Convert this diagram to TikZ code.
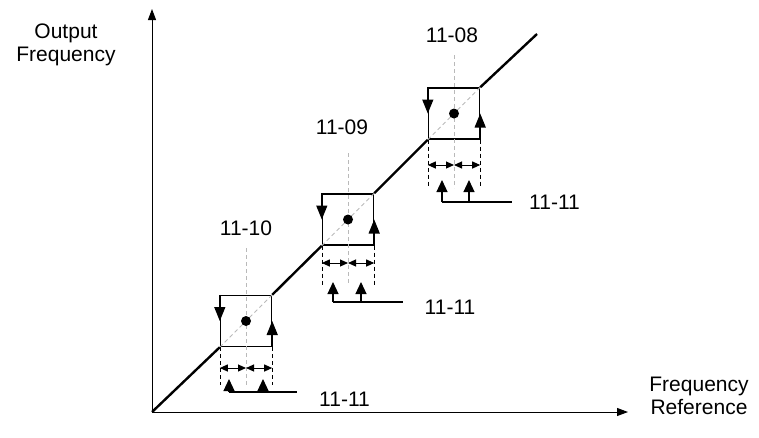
\documentclass[tikz,border=0pt]{standalone}
\usepackage{fontspec}
\setmainfont{Liberation Sans}
\usetikzlibrary{arrows.meta}
\tikzset{
  axisline/.style={-{Triangle[length=11pt,width=8pt]}, line width=1pt},
  refline/.style={line width=2.4pt},
  hystbox/.style={draw, line width=1.4pt, minimum size=51pt, inner sep=0pt},
  edgearrow/.style={-{Triangle[length=14pt,width=11pt]}, line width=1.4pt},
  bigdot/.style={circle, fill=black, draw=none, minimum size=10pt, inner sep=0pt},
  centerline/.style={gray!55, dash pattern=on 4pt off 3pt, line width=0.8pt},
  edgeline/.style={dash pattern=on 4pt off 3pt, line width=0.6pt},
  bandarrow/.style={{Triangle[length=8pt,width=7pt]}-{Triangle[length=8pt,width=7pt]}, line width=1pt},
  steparrow/.style={-{Triangle[length=12pt,width=11pt]}, line width=1.2pt},
  stepline/.style={line width=1.2pt},
  parlabel/.style={font=\fontsize{21}{23}\selectfont, inner sep=0pt}
}

\begin{document}
\begin{tikzpicture}[x=1pt, y=1pt]
  \useasboundingbox (0,0) rectangle (759,-437);

  % axes
  \coordinate (o) at (152,-412);
  \coordinate (ytip) at (152,-9);
  \coordinate (xtip) at (628,-412);
  \draw[axisline] (o) -- (ytip);
  \draw[axisline] (o) -- (xtip);
  \node[parlabel, align=center] (ylab) at (66,-45) {Output\\Frequency};
  \node[parlabel, align=center] (xlab) at (699,-396) {Frequency\\Reference};

  % hysteresis boxes on the reference line
  \node[hystbox] (b1) at (246,-321) {};
  \node[hystbox] (b2) at (348,-219.5) {};
  \node[hystbox] (b3) at (454,-113.5) {};
  \coordinate (rend) at (537,-34);
  \draw[refline] (o) -- (b1.south west);
  \draw[refline] (b1.north east) -- (b2.south west);
  \draw[refline] (b2.north east) -- (b3.south west);
  \draw[refline] (b3.north east) -- (rend);

  % box 1
  \draw[centerline] (b1.south west) -- (b1.north east);
  \node[parlabel] (l1) at (246,-228) {11-10};
  \coordinate (c1t) at (246,-248);
  \coordinate (c1b) at (246,-385);
  \draw[centerline] (c1t) -- (c1b);
  \draw[edgearrow] (b1.north west) -- (b1.west);
  \draw[edgearrow] (b1.south east) -- (b1.east);
  \node[bigdot] (d1) at (b1.center) {};
  \draw[edgeline] (b1.south west) -- (b1.south west |- c1b);
  \draw[edgeline] (b1.south east) -- (b1.south east |- c1b);
  \coordinate (m1) at (246,-368);
  \draw[bandarrow] (b1.west |- m1) -- (m1);
  \draw[bandarrow] (m1) -- (b1.east |- m1);
  \coordinate (s1a) at (229,-392);
  \coordinate (s1b) at (263,-392);
  \coordinate (s1e) at (297,-392);
  \draw[stepline] (s1a) -- (s1e);
  \draw[steparrow] (s1a) -- (229,-379);
  \draw[steparrow] (s1b) -- (263,-379);
  \node[parlabel] (w1) at (344.5,-399.5) {11-11};

  % box 2
  \draw[centerline] (b2.south west) -- (b2.north east);
  \node[parlabel] (l2) at (342,-127) {11-09};
  \coordinate (c2t) at (348,-153);
  \coordinate (c2b) at (348,-285);
  \draw[centerline] (c2t) -- (c2b);
  \draw[edgearrow] (b2.north west) -- (b2.west);
  \draw[edgearrow] (b2.south east) -- (b2.east);
  \node[bigdot] (d2) at (b2.center) {};
  \draw[edgeline] (b2.south west) -- (b2.south west |- c2b);
  \draw[edgeline] (b2.south east) -- (b2.south east |- c2b);
  \coordinate (m2) at (348,-263);
  \draw[bandarrow] (b2.west |- m2) -- (m2);
  \draw[bandarrow] (m2) -- (b2.east |- m2);
  \coordinate (s2a) at (333,-302);
  \coordinate (s2b) at (361,-302);
  \coordinate (s2e) at (403,-302);
  \draw[stepline] (s2a) -- (s2e);
  \draw[steparrow] (s2a) -- (333,-282);
  \draw[steparrow] (s2b) -- (361,-282);
  \node[parlabel] (w2) at (450,-307) {11-11};

  % box 3
  \draw[centerline] (b3.south west) -- (b3.north east);
  \node[parlabel] (l3) at (452,-35) {11-08};
  \coordinate (c3t) at (454,-55);
  \coordinate (c3b) at (454,-188);
  \draw[centerline] (c3t) -- (c3b);
  \draw[edgearrow] (b3.north west) -- (b3.west);
  \draw[edgearrow] (b3.south east) -- (b3.east);
  \node[bigdot] (d3) at (b3.center) {};
  \draw[edgeline] (b3.south west) -- (b3.south west |- c3b);
  \draw[edgeline] (b3.south east) -- (b3.south east |- c3b);
  \coordinate (m3) at (454,-165);
  \draw[bandarrow] (b3.west |- m3) -- (m3);
  \draw[bandarrow] (m3) -- (b3.east |- m3);
  \coordinate (s3a) at (442,-202);
  \coordinate (s3b) at (469,-202);
  \coordinate (s3e) at (512,-202);
  \draw[stepline] (s3a) -- (s3e);
  \draw[steparrow] (s3a) -- (442,-180);
  \draw[steparrow] (s3b) -- (469,-180);
  \node[parlabel] (w3) at (554.5,-202.5) {11-11};
\end{tikzpicture}
\end{document}
